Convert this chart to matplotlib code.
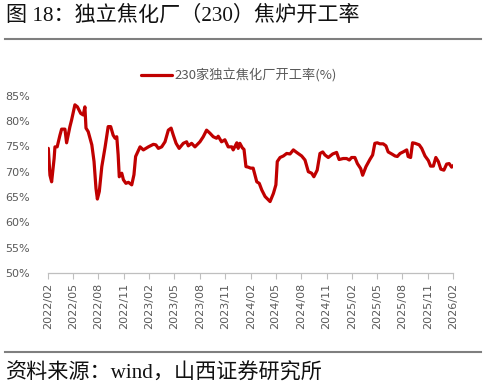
import matplotlib
matplotlib.use("Agg")
import matplotlib.pyplot as plt
from matplotlib.lines import Line2D
import pandas as pd

plt.rcParams['font.family'] = ['Noto Sans CJK SC', 'DejaVu Sans']

title = "图 18：独立焦化厂（230）焦炉开工率"
source = "资料来源：wind，山西证券研究所"
series_name = "230家独立焦化厂开工率(%)"

dates = [
    "2022-02-01", "2022-02-07", "2022-02-13", "2022-02-22", "2022-02-25", "2022-03-05",
    "2022-03-15", "2022-03-21", "2022-04-02", "2022-04-08", "2022-04-20", "2022-04-26",
    "2022-05-08", "2022-05-17", "2022-05-29", "2022-06-07", "2022-06-13", "2022-06-17",
    "2022-06-25", "2022-07-08", "2022-07-16", "2022-07-23", "2022-07-28", "2022-08-04",
    "2022-08-13", "2022-08-25", "2022-09-05", "2022-09-14", "2022-09-23", "2022-09-30",
    "2022-10-06", "2022-10-11", "2022-10-15", "2022-10-24", "2022-10-30", "2022-11-08",
    "2022-11-17", "2022-11-29", "2022-12-07", "2022-12-13", "2022-12-29", "2023-01-10",
    "2023-01-28", "2023-02-15", "2023-02-24", "2023-03-05", "2023-03-17", "2023-03-29",
    "2023-04-10", "2023-04-20", "2023-04-28", "2023-05-08", "2023-05-19", "2023-06-03",
    "2023-06-15", "2023-06-21", "2023-07-03", "2023-07-15", "2023-08-02", "2023-08-14",
    "2023-08-26", "2023-09-07", "2023-09-19", "2023-10-01", "2023-10-07", "2023-10-19",
    "2023-10-31", "2023-11-12", "2023-11-25", "2023-11-30", "2023-12-13", "2023-12-18",
    "2023-12-24", "2024-01-02", "2024-01-08", "2024-01-15", "2024-01-23", "2024-02-01",
    "2024-02-10", "2024-02-23", "2024-03-03", "2024-03-12", "2024-03-24", "2024-04-11",
    "2024-04-23", "2024-05-02", "2024-05-07", "2024-05-17", "2024-05-29", "2024-06-10",
    "2024-06-22", "2024-07-04", "2024-07-16", "2024-08-03", "2024-08-15", "2024-08-27",
    "2024-09-08", "2024-09-16", "2024-09-28", "2024-10-08", "2024-10-18", "2024-10-26",
    "2024-11-07", "2024-11-23", "2024-12-07", "2024-12-16", "2024-12-31", "2025-01-12",
    "2025-01-22", "2025-01-30", "2025-02-11", "2025-02-20", "2025-03-04", "2025-03-11",
    "2025-03-23", "2025-04-06", "2025-04-16", "2025-04-24", "2025-05-03", "2025-05-12",
    "2025-05-24", "2025-06-03", "2025-06-11", "2025-06-24", "2025-07-06", "2025-07-14",
    "2025-07-24", "2025-08-04", "2025-08-17", "2025-08-22", "2025-08-31", "2025-09-07",
    "2025-09-16", "2025-10-01", "2025-10-10", "2025-10-22", "2025-11-03", "2025-11-11",
    "2025-11-21", "2025-11-30", "2025-12-09", "2025-12-18", "2025-12-29", "2026-01-08",
    "2026-01-17", "2026-01-26", "2026-02-03",
]
rates = [
    74.6, 69.3, 68.0, 72.6, 74.9, 74.9,
    77.2, 78.4, 78.4, 75.7, 78.9, 80.2,
    83.2, 82.8, 81.5, 81.2, 82.8, 78.6,
    77.9, 75.3, 72.0, 66.7, 64.6, 66.1,
    71.0, 74.9, 78.9, 78.9, 77.2, 76.6,
    76.9, 73.3, 69.0, 69.7, 68.4, 67.7,
    67.9, 67.4, 69.4, 73.0, 74.9, 74.3,
    74.9, 75.4, 75.3, 74.6, 74.9, 75.9,
    78.2, 78.6, 77.2, 75.6, 74.6, 75.6,
    75.9, 75.1, 75.6, 74.9, 75.9, 76.9,
    78.2, 77.6, 76.9, 76.6, 77.0, 75.9,
    76.3, 74.9, 74.9, 74.3, 75.7, 74.6,
    75.6, 74.7, 74.4, 71.0, 70.9, 70.7,
    70.7, 68.0, 67.7, 66.4, 65.1, 64.1,
    65.7, 67.4, 72.0, 72.8, 73.1, 73.6,
    73.5, 74.3, 73.8, 73.1, 72.3, 70.0,
    69.7, 69.0, 70.3, 73.6, 73.9, 73.3,
    72.8, 73.5, 73.8, 72.4, 72.6, 72.6,
    72.3, 72.8, 72.8, 71.6, 70.6, 69.3,
    71.0, 72.4, 73.3, 75.6, 75.7, 75.5,
    75.5, 75.1, 73.9, 73.5, 73.1, 73.0,
    73.6, 73.9, 74.3, 73.0, 72.8, 75.7,
    75.6, 75.3, 74.6, 73.1, 72.2, 71.1,
    71.1, 72.8, 72.0, 70.5, 70.3, 71.5,
    71.6, 70.9, 71.3,
]
y_ticks = [50, 55, 60, 65, 70, 75, 80, 85]
x_tick_labels = ["2022/02", "2022/05", "2022/08", "2022/11", "2023/02", "2023/05",
                 "2023/08", "2023/11", "2024/02", "2024/05", "2024/08", "2024/11",
                 "2025/02", "2025/05", "2025/08", "2025/11", "2026/02"]

W, H = 485, 392
fig = plt.figure(figsize=(W / 100, H / 100), dpi=100)

def fx(px):
    return px / W

def fy(py):
    return 1 - py / H

ax = fig.add_axes([fx(48.3), fy(273), fx(453.3) - fx(48.3), fy(95.7) - fy(273)])

x = pd.to_datetime(dates)
ax.plot(x, rates, color="#C00000", lw=2.3, solid_joinstyle="round",
        solid_capstyle="round", label=series_name)

tick_dates = pd.to_datetime([s.replace("/", "-") + "-01" for s in x_tick_labels])
ax.set_xlim(tick_dates[0], tick_dates[-1])
ax.set_xticks(tick_dates)
ax.set_xticklabels(x_tick_labels, rotation=90, fontsize=8, color="#595959",
                   family="DejaVu Sans")
ax.set_ylim(50, 85)
ax.set_yticks(y_ticks)
ax.set_yticklabels([f"{v}%" for v in y_ticks], fontsize=8, color="#595959",
                   family="DejaVu Sans")
ax.tick_params(axis="y", length=0, pad=13)
ax.tick_params(axis="x", length=4, width=0.8, color="#BFBFBF", pad=3)
for s in ["top", "right", "left"]:
    ax.spines[s].set_visible(False)
ax.spines["bottom"].set_color("#BFBFBF")
ax.spines["bottom"].set_linewidth(0.9)

leg = fig.legend(loc="center", bbox_to_anchor=(fx(239), fy(76)), frameon=False,
                 fontsize=9.5, handlelength=2.3, handletextpad=0.2,
                 borderpad=0, borderaxespad=0)
for t in leg.get_texts():
    t.set_color("#595959")

fig.text(fx(6), fy(16), title, fontsize=15.2, color="#111111", va="center", ha="left",
         family=["Liberation Serif", "Noto Sans CJK SC"])
fig.text(fx(6), fy(374), source, fontsize=15.2, color="#111111", va="center", ha="left",
         family=["Liberation Serif", "Noto Sans CJK SC"])

fig.add_artist(Line2D([fx(5), fx(481)], [fy(38.7), fy(38.7)], transform=fig.transFigure,
                      color="#7F7F7F", lw=1.5))
fig.add_artist(Line2D([fx(5), fx(481)], [fy(352), fy(352)], transform=fig.transFigure,
                      color="#7F7F7F", lw=1.5))

fig.savefig("out.png", dpi=100, facecolor="white")
